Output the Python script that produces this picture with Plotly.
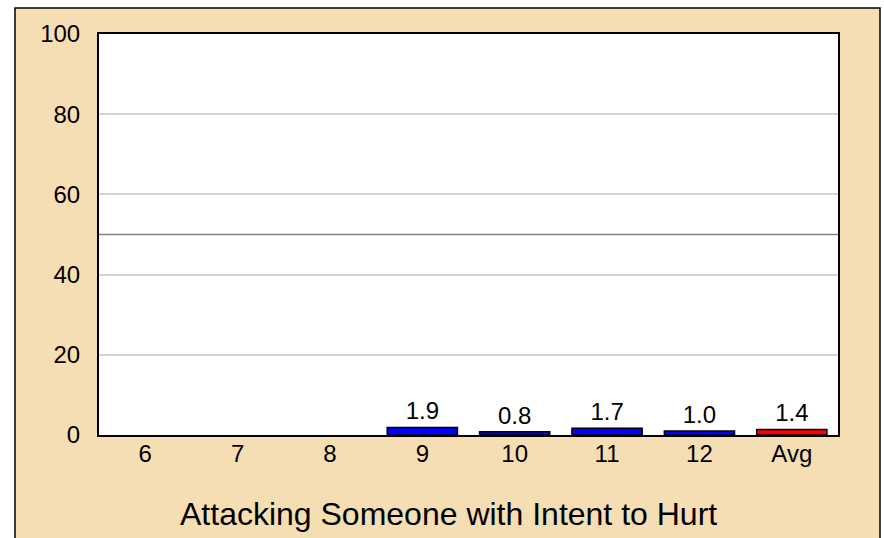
import plotly.graph_objects as go

categories = ["6", "7", "8", "9", "10", "11", "12", "Avg"]
values = [None, None, None, 1.9, 0.8, 1.7, 1.0, 1.4]
bar_colors = ["#0000FF"] * 7 + ["#FF0000"]
y_ticks = [0, 20, 40, 60, 80, 100]
ref_line = 50
title_text = "Attacking Someone with Intent to Hurt"

labels = ["" if v is None else f"{v:.1f}" for v in values]

W, H = 884, 538
L, R, T, B = 99, 838, 34, 435
pw, ph = R - L, B - T

def px(x):
    return (x - L) / pw

def py(y):
    return (B - y) / ph

FONT = "Liberation Sans, Arial, sans-serif"

fig = go.Figure()
fig.add_trace(go.Bar(
    x=categories, y=values,
    marker=dict(color=bar_colors, line=dict(color="black", width=1.5)),
    text=labels, textposition="outside",
    textfont=dict(family=FONT, size=24, color="black"),
    cliponaxis=False, width=0.76,
))

fig.add_shape(type="rect", xref="paper", yref="paper",
              x0=px(15), x1=px(880), y0=py(580), y1=py(8),
              fillcolor="#F5DEB3", line=dict(color="black", width=1.5), layer="below")
fig.add_shape(type="rect", xref="paper", yref="paper",
              x0=0, x1=1, y0=0, y1=1,
              fillcolor="white", line=dict(width=0), layer="below")
fig.add_shape(type="line", xref="paper", yref="y",
              x0=0, x1=1, y0=ref_line, y1=ref_line,
              line=dict(color="#808080", width=1.5), layer="below")

fig.add_annotation(text=title_text, xref="paper", yref="paper",
                   x=px(448), y=py(514), showarrow=False,
                   font=dict(family=FONT, size=32, color="black"),
                   xanchor="center", yanchor="middle")

fig.update_layout(
    width=W, height=H,
    margin=dict(l=L, r=W - R, t=T, b=H - B, pad=0),
    paper_bgcolor="white", plot_bgcolor="white",
    showlegend=False,
    font=dict(family=FONT, size=24, color="black"),
    xaxis=dict(showline=True, mirror=True, linecolor="black", linewidth=2,
               showgrid=False, ticks="", ticklabelstandoff=-4,
               tickfont=dict(size=24)),
    yaxis=dict(range=[0, 100], tickvals=y_ticks, showline=True, mirror=True,
               linecolor="black", linewidth=2, gridcolor="#D3D3D3", gridwidth=1.5,
               zeroline=False, ticks="outside", ticklen=12, tickcolor="rgba(0,0,0,0)",
               tickfont=dict(size=24)),
)

fig.write_html("out.html", config={"displayModeBar": False},
               post_script="document.body.style.margin='0';document.body.style.overflow='hidden';")
